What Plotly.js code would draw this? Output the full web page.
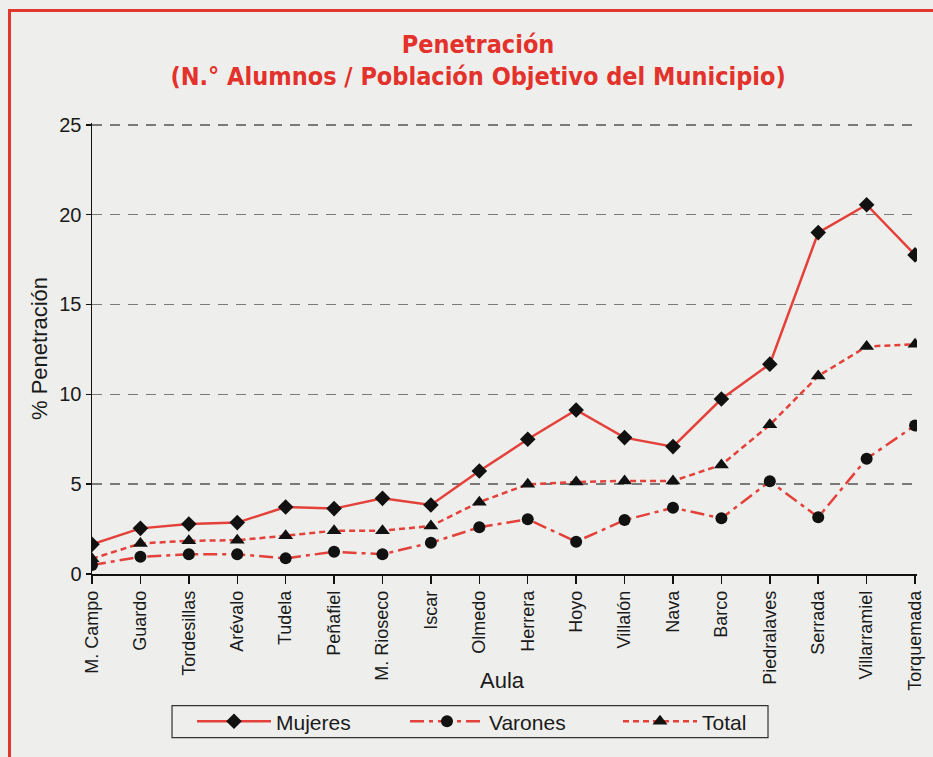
<!DOCTYPE html>
<html>
<head>
<meta charset="utf-8">
<script src="https://cdn.plot.ly/plotly-3.0.1.min.js"></script>
<style>
  html, body { margin: 0; padding: 0; background: #eeeeec; }
  #wrap { position: relative; width: 933px; height: 757px; overflow: hidden; }
  #chart { width: 933px; height: 757px; }
  #frame { position: absolute; left: 8px; top: 9px; width: 2000px; height: 2000px;
           border-left: 3px solid #e2372f; border-top: 3px solid #e2372f; pointer-events: none; }
</style>
</head>
<body>
<div id="wrap">
  <div id="chart"></div>
  <div id="frame"></div>
</div>
<script>
const aulas = ["M. Campo", "Guardo", "Tordesillas", "Arévalo", "Tudela", "Peñafiel", "M. Rioseco", "Iscar", "Olmedo",
               "Herrera", "Hoyo", "Villalón", "Nava", "Barco", "Piedralaves", "Serrada", "Villarramiel", "Torquemada"];
const mujeres = [1.65, 2.54, 2.78, 2.86, 3.73, 3.64, 4.21, 3.84, 5.73, 7.5, 9.13, 7.59, 7.09, 9.74, 11.68, 19.0, 20.55, 17.76];
const varones = [0.5, 0.96, 1.1, 1.1, 0.87, 1.24, 1.1, 1.74, 2.6, 3.05, 1.8, 3.0, 3.69, 3.1, 5.16, 3.16, 6.42, 8.26];
const total   = [0.85, 1.7, 1.85, 1.88, 2.13, 2.41, 2.41, 2.67, 4.0, 4.99, 5.12, 5.18, 5.18, 6.07, 8.3, 11.02, 12.66, 12.79];
const yTicks = [0, 5, 10, 15, 20, 25];

const red = "#e3413a";
const baseFont = "Liberation Sans, Arial, Helvetica, sans-serif";

const traces = [
  { x: aulas, y: mujeres, name: "Mujeres", type: "scatter", mode: "lines+markers",
    line: { color: red, width: 2.5 },
    marker: { symbol: "diamond", size: 12, color: "#111" } },
  { x: aulas, y: varones, name: "Varones", type: "scatter", mode: "lines+markers",
    line: { color: red, width: 2.5, dash: "14px,5px,4px,5px" },
    marker: { symbol: "circle", size: 12, color: "#111" } },
  { x: aulas, y: total, name: "Total", type: "scatter", mode: "lines+markers",
    line: { color: red, width: 2.5, dash: "6px,4px" },
    marker: { symbol: "triangle-up", size: 13, color: "#111" } }
];

const layout = {
  width: 933, height: 757,
  paper_bgcolor: "#eeeeec", plot_bgcolor: "rgba(0,0,0,0)",
  margin: { l: 92, r: 16, t: 123, b: 183 },
  font: { family: baseFont, color: "#222" },
  title: {
    text: "<b>Penetración<br>(N.° Alumnos / Población Objetivo del Municipio)</b>",
    font: { family: "Liberation Sans Narrow, DejaVu Sans Condensed, Arial Narrow, sans-serif", size: 25, color: "#e3312b" },
    x: 0.468, xanchor: "center", xref: "paper",
    y: 0.93, yanchor: "top", yref: "container"
  },
  xaxis: {
    type: "category", range: [0, 17.04],
    showline: true, linecolor: "#111", linewidth: 1.5,
    ticks: "outside", ticklen: 8, tickcolor: "#111", tickwidth: 1.5,
    tickangle: -90, tickfont: { size: 18, color: "#1a1a1a" },
    showgrid: false, zeroline: false, fixedrange: true
  },
  yaxis: {
    range: [0, 25.1], tickvals: yTicks,
    showline: true, linecolor: "#111", linewidth: 1.5,
    ticks: "outside", ticklen: 5, tickcolor: "#111", tickwidth: 1.5,
    tickfont: { size: 20, color: "#1a1a1a" },
    showgrid: true, gridcolor: "#7a7a7a", gridwidth: 1.5, griddash: "10px,8px",
    zeroline: false,
    title: { text: "% Penetración", font: { size: 22, color: "#1a1a1a" }, standoff: 5 }
  },
  showlegend: true,
  legend: {
    orientation: "h", x: 0.1212, xanchor: "left", y: -0.3274, yanchor: "middle",
    borderwidth: 0, bgcolor: "rgba(0,0,0,0)",
    font: { size: 21, color: "#1a1a1a" }, itemwidth: 74, entrywidth: 124, entrywidthmode: "pixels"
  },
  shapes: [
    { type: "rect", xref: "paper", yref: "paper", x0: 0.097, x1: 0.8194, y0: -0.2918, y1: -0.363,
      line: { color: "#333", width: 1.2 }, fillcolor: "rgba(0,0,0,0)" }
  ],
  annotations: [
    { text: "Aula", xref: "paper", yref: "paper", x: 0.497, y: -0.236, xanchor: "center", yanchor: "middle",
      showarrow: false, font: { size: 22, color: "#1a1a1a" } }
  ]
};

Plotly.newPlot("chart", traces, layout, { displayModeBar: false, staticPlot: true });
</script>
</body>
</html>
